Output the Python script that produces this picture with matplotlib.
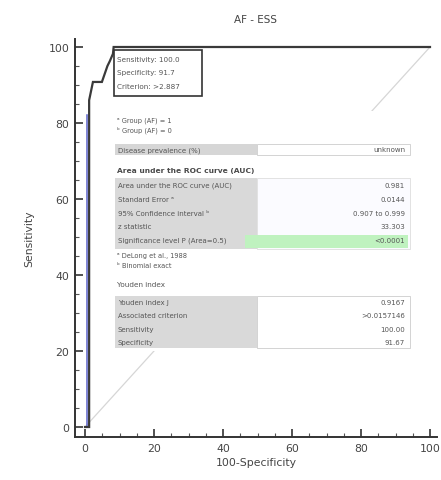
import matplotlib
matplotlib.use("Agg")
import matplotlib.pyplot as plt
from matplotlib.patches import Rectangle
from matplotlib.ticker import MultipleLocator

# ---- data ----
roc_fpr = [0, 1.2, 1.2, 2.3, 4.9, 6.5, 7.2, 8.1, 8.3, 100]
roc_tpr = [0, 0, 86, 90.8, 90.8, 95, 96.3, 98.2, 100, 100]
blue_x = [0.5, 0.5]
blue_y = [0, 82]
diag = [0, 100]
ticks = [0, 20, 40, 60, 80, 100]
title = "AF - ESS"
legend_lines = ["Sensitivity: 100.0", "Specificity: 91.7", "Criterion: >2.887"]
sample_lines = ["\u1d43 Group (AF) = 1", "\u1d47 Group (AF) = 0"]
auc_labels = ["Area under the ROC curve (AUC)", "Standard Error \u1d43",
              "95% Confidence interval \u1d47", "z statistic",
              "Significance level P (Area=0.5)"]
auc_values = ["0.981", "0.0144", "0.907 to 0.999", "33.303", "<0.0001"]
foot_lines = ["\u1d43 DeLong et al., 1988", "\u1d47 Binomial exact"]
youden_labels = ["Youden index J", "Associated criterion", "Sensitivity", "Specificity"]
youden_values = ["0.9167", ">0.0157146", "100.00", "91.67"]

W, H = 441, 481
fig = plt.figure(figsize=(W / 100, H / 100), dpi=100)

def fx(x):
    return x / W

def fy(y):
    return 1 - y / H

# axes: x=0 -> 85px, x=100 -> 430px ; y=0 -> 428px, y=100 -> 48px
ax_l, ax_r, ax_t, ax_b = 75, 437, 40, 438
ax = fig.add_axes([fx(ax_l), fy(ax_b), (ax_r - ax_l) / W, (ax_b - ax_t) / H])
sx = 345 / 100.0
sy = 380 / 100.0
ax.set_xlim((ax_l - 85) / sx, (ax_r - 85) / sx)
ax.set_ylim(-(ax_b - 428) / sy, (428 - ax_t) / sy)
for s in ["top", "right"]:
    ax.spines[s].set_visible(False)
for s in ["left", "bottom"]:
    ax.spines[s].set_linewidth(1.4)
    ax.spines[s].set_color("#333333")
ax.set_xticks(ticks)
ax.set_yticks(ticks)
ax.xaxis.set_minor_locator(MultipleLocator(5))
ax.yaxis.set_minor_locator(MultipleLocator(5))
ax.tick_params(which="major", direction="in", length=6, width=1.2, colors="#333333",
               labelsize=7.8, labelcolor="#444444", pad=4)
ax.tick_params(which="minor", direction="in", length=3, width=0.8, colors="#555555")
ax.set_xlabel("100-Specificity", fontsize=7.8, color="#444444", labelpad=3)
ax.set_ylabel("Sensitivity", fontsize=7.8, color="#444444", labelpad=10)
ax.set_title(title, fontsize=7.5, color="#444444", pad=12)

ax.plot(diag, diag, color="#d6d6d6", lw=0.9, zorder=1)
ax.plot(blue_x, blue_y, color="#5a62c8", lw=1.1, zorder=3)
ax.plot(roc_fpr, roc_tpr, color="#3a3a3a", lw=1.6, zorder=4, solid_joinstyle="miter")

# ---- overlay panel (opaque) ----
def rect(x0, y0, x1, y1, fc, ec="none", lw=0.0, z=5):
    fig.patches.append(Rectangle((fx(x0), fy(y1)), (x1 - x0) / W, (y1 - y0) / H,
                                 transform=fig.transFigure, facecolor=fc,
                                 edgecolor=ec, linewidth=lw, zorder=z))

def txt(x, y, s, ha="left", bold=False, size=5.0, color="#555555"):
    fig.text(fx(x), fy(y), s, ha=ha, va="center", fontsize=size, color=color,
             fontweight="bold" if bold else "normal", zorder=10)

rect(108, 112, 413, 352, "white")

# legend box
rect(114, 51, 202, 97, "white", ec="#333333", lw=1.2, z=6)
for i, s in enumerate(legend_lines):
    txt(117, 60 + i * 13.5, s, size=5.2)

for i, s in enumerate(sample_lines):
    txt(117, 121 + i * 9, s, size=4.8)

# disease prevalence row
rect(115, 145, 257, 156, "#d6d6d6")
rect(257, 145, 410, 156, "white", ec="#cccccc", lw=0.6)
txt(118, 150.5, "Disease prevalence (%)", size=5.0)
txt(405, 150.5, "unknown", ha="right", size=5.0)

txt(117, 171, "Area under the ROC curve (AUC)", bold=True, size=5.4, color="#4a4a4a")
rect(115, 179, 257, 250, "#d9d9d9")
rect(257, 179, 410, 250, "#fbfbff", ec="#dddddd", lw=0.6)
rect(245, 236, 408, 249, "#bff2bf", z=6)
for i, (lab, val) in enumerate(zip(auc_labels, auc_values)):
    y = 186 + i * 13.8
    txt(118, y, lab, size=5.0)
    txt(405, y, val, ha="right", size=5.0)
for i, s in enumerate(foot_lines):
    txt(117, 256 + i * 10, s, size=4.8)

txt(117, 285, "Youden index", size=5.2)
rect(115, 297, 257, 349, "#d9d9d9")
rect(257, 297, 410, 349, "white", ec="#cccccc", lw=0.6)
for i, (lab, val) in enumerate(zip(youden_labels, youden_values)):
    y = 303 + i * 13.5
    txt(118, y, lab, size=5.0)
    txt(405, y, val, ha="right", size=5.0)

fig.savefig("out.png", dpi=100)
